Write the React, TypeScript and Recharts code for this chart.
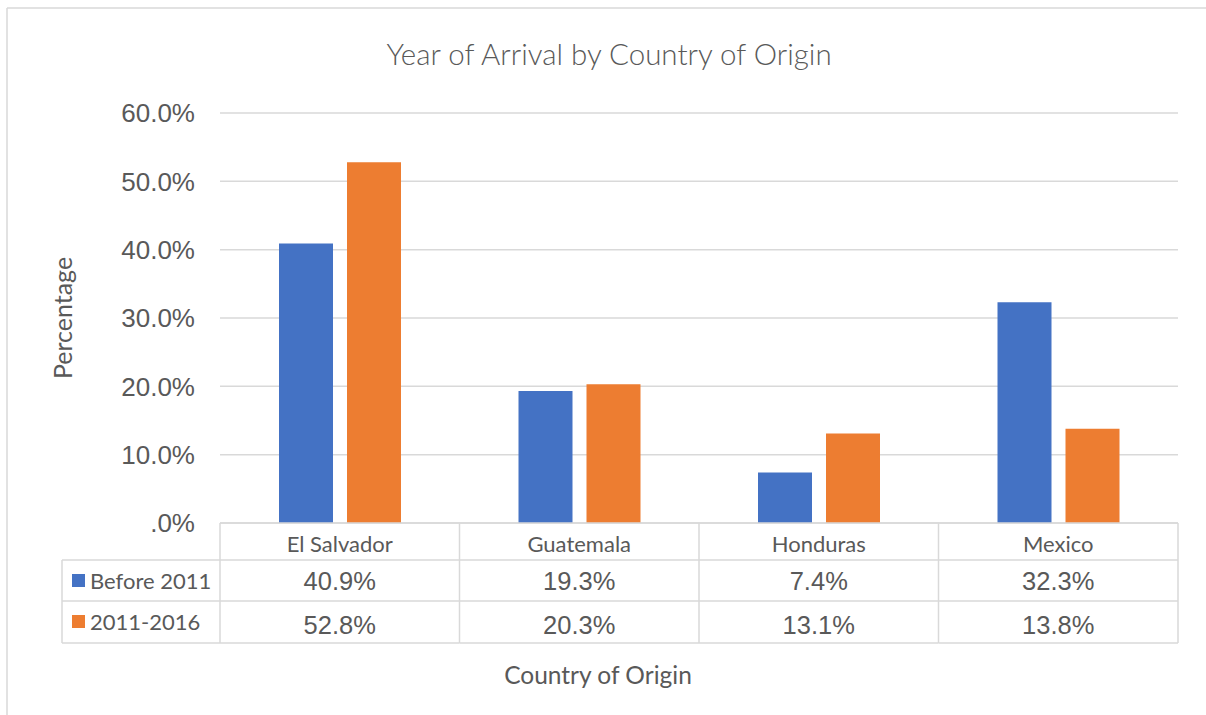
import { Bar, BarChart, CartesianGrid, Customized, XAxis, YAxis } from "recharts";

const countries = ["El Salvador", "Guatemala", "Honduras", "Mexico"];
const before2011 = [40.9, 19.3, 7.4, 32.3];
const from2011to2016 = [52.8, 20.3, 13.1, 13.8];
const yTicks = [0, 10, 20, 30, 40, 50, 60];

const seriesNames = ["Before 2011", "2011-2016"];
const seriesColors = ["#4472C4", "#ED7D31"];

const data = countries.map((country, i) => ({
  country,
  before: before2011[i],
  recent: from2011to2016[i],
}));

const W = 1206;
const H = 715;
const PLOT_LEFT = 220;
const PLOT_RIGHT = 1178;
const TABLE_H = 120;
const ROW1 = 37;
const ROW2 = 78;
const LEGEND_LEFT = 62;
const GRID = "#d9d9d9";
const TEXT = "#595959";
const SANS = "'Liberation Sans', Arial, sans-serif";
const LABEL = "Lato, 'Open Sans', sans-serif";

const bandWidth = (PLOT_RIGHT - PLOT_LEFT) / countries.length;

const fmt = (v: number) => (v === 0 ? ".0%" : `${v.toFixed(1)}%`);

// the data table under the axis is drawn one column per tick
const TableTick = (props: any) => {
  const { x, y, payload, index } = props;
  const i = index ?? countries.indexOf(payload.value);
  const left = x - bandWidth / 2;
  const right = x + bandWidth / 2;
  const rowVals = [before2011[i], from2011to2016[i]];
  return (
    <g>
      <line x1={left} x2={left} y1={y} y2={y + TABLE_H} stroke={GRID} strokeWidth={1.5} />
      {i === countries.length - 1 && (
        <line x1={right} x2={right} y1={y} y2={y + TABLE_H} stroke={GRID} strokeWidth={1.5} />
      )}
      {[ROW1, ROW2, TABLE_H].map((dy) => (
        <line key={dy} x1={left} x2={right} y1={y + dy} y2={y + dy} stroke={GRID} strokeWidth={1.5} />
      ))}
      <text x={x} y={y + 29} textAnchor="middle" fontFamily={LABEL} fontSize={22} fill={TEXT}>
        {payload.value}
      </text>
      {rowVals.map((v, r) => (
        <text
          key={r}
          x={x}
          y={y + (r === 0 ? 67 : 111)}
          textAnchor="middle"
          fontFamily={SANS}
          fontSize={25.5}
          fill={TEXT}
        >
          {fmt(v)}
        </text>
      ))}
      {i === 0 && (
        <g>
          <line x1={LEGEND_LEFT} x2={LEGEND_LEFT} y1={y + ROW1} y2={y + TABLE_H} stroke={GRID} strokeWidth={1.5} />
          {[ROW1, ROW2, TABLE_H].map((dy) => (
            <line key={dy} x1={LEGEND_LEFT} x2={left} y1={y + dy} y2={y + dy} stroke={GRID} strokeWidth={1.5} />
          ))}
          {seriesNames.map((name, r) => {
            const base = y + (r === 0 ? 66 : 107);
            return (
              <g key={name}>
                <rect x={72} y={base - 15} width={13} height={13} fill={seriesColors[r]} />
                <text x={90} y={base} fontFamily={LABEL} fontSize={22} fill={TEXT}>
                  {name}
                </text>
              </g>
            );
          })}
        </g>
      )}
    </g>
  );
};

const Frame = () => (
  <g>
    <line x1={7} x2={7} y1={8} y2={H} stroke={GRID} strokeWidth={1.5} />
    <line x1={7} x2={W} y1={8} y2={8} stroke={GRID} strokeWidth={1.5} />
    <text x={609} y={65} textAnchor="middle" fontFamily={LABEL} fontWeight={300} fontSize={29.5} fill={TEXT}>
      Year of Arrival by Country of Origin
    </text>
    <text
      x={72}
      y={318}
      transform="rotate(-90 72 318)"
      textAnchor="middle"
      fontFamily={LABEL}
      fontSize={25}
      fill={TEXT}
    >
      Percentage
    </text>
    <text x={598} y={684} textAnchor="middle" fontFamily={LABEL} fontSize={24.5} fill={TEXT}>
      Country of Origin
    </text>
  </g>
);

const App = () => (
  <div style={{ position: "absolute", left: 0, top: 0, width: W, height: H, background: "#fff" }}>
    <BarChart
      width={W}
      height={H}
      data={data}
      margin={{ top: 113, right: W - PLOT_RIGHT, left: PLOT_LEFT - 100, bottom: H - 523 - TABLE_H }}
      barSize={54}
      barGap={14}
    >
      <CartesianGrid vertical={false} stroke={GRID} strokeWidth={1.5} />
      <XAxis
        dataKey="country"
        height={TABLE_H}
        interval={0}
        tickLine={false}
        tickSize={0}
        tickMargin={0}
        axisLine={{ stroke: GRID, strokeWidth: 1.5 }}
        tick={<TableTick />}
      />
      <YAxis
        width={100}
        domain={[0, 60]}
        ticks={yTicks}
        tickFormatter={fmt}
        axisLine={false}
        tickLine={false}
        tickSize={0}
        tickMargin={25}
        tick={{ fontFamily: SANS, fontSize: 26, fill: TEXT }}
      />
      <Bar dataKey="before" name={seriesNames[0]} fill={seriesColors[0]} isAnimationActive={false} />
      <Bar dataKey="recent" name={seriesNames[1]} fill={seriesColors[1]} isAnimationActive={false} />
      <Customized component={<Frame />} />
    </BarChart>
  </div>
);

export default App;
